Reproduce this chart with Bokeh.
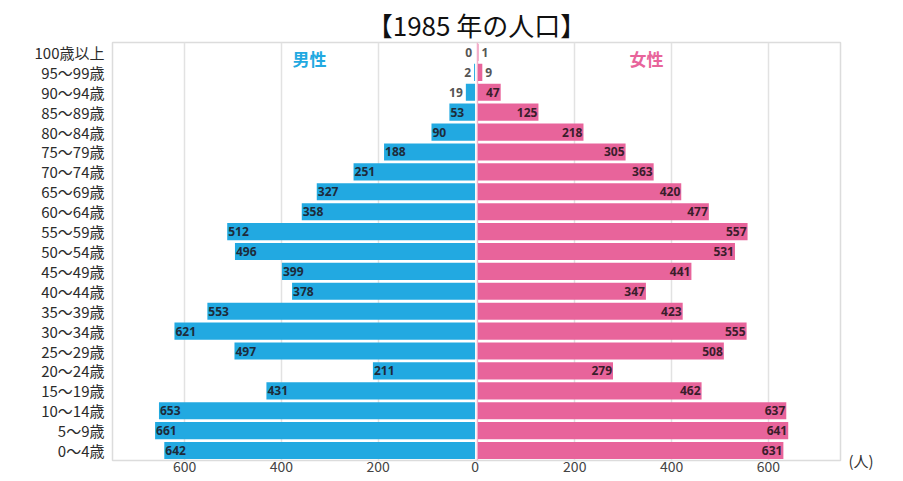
from bokeh.plotting import figure
from bokeh.models import (ColumnDataSource, FixedTicker, Span, Label, Range1d,
                          LinearAxis)
from bokeh.core.properties import value
from bokeh.embed import file_html
from bokeh.resources import INLINE

# ---------------- data ----------------
title_text = "【1985 年の人口】"
male_name = "男性"
female_name = "女性"
unit_text = "(人)"

age_groups = ["0～4歳", "5～9歳", "10～14歳", "15～19歳", "20～24歳", "25～29歳",
              "30～34歳", "35～39歳", "40～44歳", "45～49歳", "50～54歳", "55～59歳",
              "60～64歳", "65～69歳", "70～74歳", "75～79歳", "80～84歳", "85～89歳",
              "90～94歳", "95～99歳", "100歳以上"]
male = [642, 661, 653, 431, 211, 497, 621, 553, 378, 399, 496, 512,
        358, 327, 251, 188, 90, 53, 19, 2, 0]
female = [631, 641, 637, 462, 279, 508, 555, 423, 347, 441, 531, 557,
          477, 420, 363, 305, 218, 125, 47, 9, 1]

x_ticks = [600, 400, 200, 0, 200, 400, 600]
x_tick_sides = [-1, -1, -1, 0, 1, 1, 1]
x_max = 749

# ---------------- style ----------------
BLUE = "#22a9e1"
PINK = "#e8649b"
GAP = 6  # small gap between the two halves (data units)
JP = "Noto Sans CJK JP"

n = len(age_groups)
ypos = [i + 0.5 for i in range(n)]  # slot centres on the y scale

p = figure(width=895, height=480,
           x_range=Range1d(-x_max, x_max + GAP), y_range=Range1d(0, n),
           output_backend="svg", toolbar_location=None,
           min_border_left=112, min_border_right=55,
           min_border_top=42, min_border_bottom=20)

p.title.text = title_text
p.title.align = "center"
p.title.text_font = JP
p.title.text_font_size = "26px"
p.title.text_font_style = "normal"
p.title.text_color = "#111111"
p.title.standoff = 0

# bars
src = ColumnDataSource(dict(
    y=ypos,
    m_left=[-v for v in male],
    m_right=[0] * n,
    f_left=[GAP] * n,
    f_right=[GAP + v for v in female],
))
p.hbar(y="y", left="m_left", right="m_right", height=0.86, source=src,
       fill_color=BLUE, line_color=None)
p.hbar(y="y", left="f_left", right="f_right", height=0.86, source=src,
       fill_color=PINK, line_color=None)

p.add_layout(Span(location=GAP - 1, dimension="height", line_color="#f3b3cd",
                  line_width=1.5, level="underlay"))

# value labels
def add_labels(xs, texts, ys, align, offset, color):
    if not xs:
        return
    s = ColumnDataSource(dict(x=xs, y=ys, t=texts))
    p.text(x="x", y="y", text="t", source=s, text_align=align,
           text_baseline="middle", x_offset=offset,
           text_font=value("Noto Sans"), text_font_style="bold",
           text_font_size="12px", text_color=color)

mi_x, mi_t, mi_y, mo_x, mo_t, mo_y = [], [], [], [], [], []
for yy, v in zip(ypos, male):
    if v >= 40:
        mi_x.append(-v); mi_t.append(str(v)); mi_y.append(yy)
    else:
        mo_x.append(-v); mo_t.append(str(v)); mo_y.append(yy)
add_labels(mi_x, mi_t, mi_y, "left", 1, "#1d2b3a")
add_labels(mo_x, mo_t, mo_y, "right", -3, "#555555")

fi_x, fi_t, fi_y, fo_x, fo_t, fo_y = [], [], [], [], [], []
for yy, v in zip(ypos, female):
    if v >= 40:
        fi_x.append(GAP + v); fi_t.append(str(v)); fi_y.append(yy)
    else:
        fo_x.append(GAP + v); fo_t.append(str(v)); fo_y.append(yy)
add_labels(fi_x, fi_t, fi_y, "right", -1, "#3a1d2b")
add_labels(fo_x, fo_t, fo_y, "left", 3, "#555555")

# panel titles
p.add_layout(Label(x=-342, y=n - 0.8, text=male_name, text_align="center",
                   text_baseline="middle", text_font=JP, text_font_style="bold",
                   text_font_size="17px", text_color=BLUE))
p.add_layout(Label(x=348 + GAP, y=n - 0.8, text=female_name, text_align="center",
                   text_baseline="middle", text_font=JP, text_font_style="bold",
                   text_font_size="17px", text_color=PINK))

# unit label, as a one-tick axis on the right at the bottom of the frame
unit_axis = LinearAxis(ticker=FixedTicker(ticks=[0]),
                       major_label_overrides={0: unit_text})
unit_axis.axis_line_color = None
unit_axis.major_tick_line_color = None
unit_axis.minor_tick_line_color = None
unit_axis.major_tick_out = 0
unit_axis.major_tick_in = 0
unit_axis.major_label_standoff = 8
unit_axis.major_label_text_font = JP
unit_axis.major_label_text_font_size = "15px"
unit_axis.major_label_text_color = "#333333"
p.add_layout(unit_axis, "right")

# x axis
tick_pos = [s * t + (GAP if s > 0 else 0) for s, t in zip(x_tick_sides, x_ticks)]
p.xaxis.ticker = FixedTicker(ticks=tick_pos)
p.xaxis.major_label_overrides = {pos: str(t) for pos, t in zip(tick_pos, x_ticks)}
p.xaxis.axis_line_color = None
p.xaxis.major_tick_line_color = None
p.xaxis.minor_tick_line_color = None
p.xaxis.major_tick_out = 0
p.xaxis.major_tick_in = 0
p.xaxis.major_label_standoff = 0
p.xaxis.major_label_text_font = JP
p.xaxis.major_label_text_font_size = "14px"
p.xaxis.major_label_text_color = "#444444"

# y axis (age groups)
ya = p.yaxis[0]
ya.ticker = FixedTicker(ticks=ypos)
ya.major_label_overrides = {yy: a for yy, a in zip(ypos, age_groups)}
ya.axis_line_color = None
ya.major_tick_line_color = None
ya.minor_tick_line_color = None
ya.major_tick_out = 0
ya.major_tick_in = 0
ya.major_label_standoff = 8
ya.major_label_text_font = JP
ya.major_label_text_font_size = "15px"
ya.major_label_text_color = "#2b2b2b"

p.ygrid.grid_line_color = None
p.xgrid.ticker = FixedTicker(ticks=[t for t, s in zip(tick_pos, x_tick_sides) if s != 0])
p.xgrid.grid_line_color = "#e2e2e2"
p.xgrid.grid_line_width = 1.5
p.outline_line_color = "#dcdcdc"
p.outline_line_width = 1.5
p.background_fill_color = "white"
p.border_fill_color = "white"

open("out.html", "w").write(file_html(p, INLINE))
